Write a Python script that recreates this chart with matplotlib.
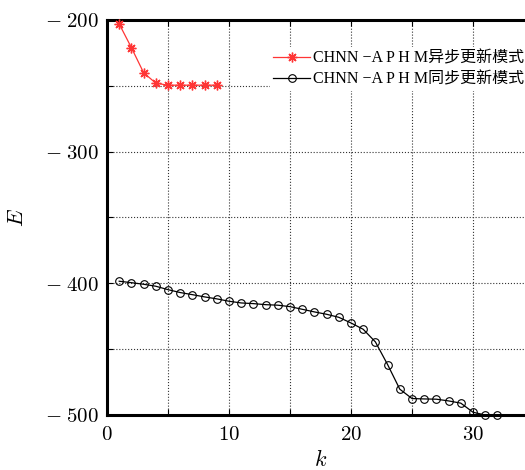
import matplotlib
matplotlib.use("Agg")
import matplotlib.pyplot as plt

plt.rcParams['mathtext.fontset'] = 'cm'
plt.rcParams['font.family'] = ['DejaVu Serif', 'Noto Sans CJK SC']

k_async = [1, 2, 3, 4, 5, 6, 7, 8, 9]
E_async = [-203, -221, -240, -248, -249.5, -249.5, -249.5, -249.5, -249.5]

k_sync = list(range(1, 33))
E_sync = [-398.4, -399.5, -400.7, -402.2, -404.8, -407.0, -408.6, -410.3, -411.8, -413.6,
          -414.9, -415.4, -416.2, -416.6, -417.7, -419.7, -421.7, -423.5, -425.8, -430.1,
          -434.9, -444.5, -461.7, -480.4, -487.5, -487.8, -488.0, -489.3, -491.0, -497.9,
          -500.0, -500.0]

label_async = "CHNN −A P H M异步更新模式"
label_sync = "CHNN −A P H M同步更新模式"

xticks = [0, 5, 10, 15, 20, 25, 30]
xticklabels = ["$0$", "", "$10$", "", "$20$", "", "$30$"]
yticks = [-500, -450, -400, -350, -300, -250, -200]
yticklabels = [r"$-\;500$", "", r"$-\;400$", "", r"$-\;300$", "", r"$-\;200$"]

fig = plt.figure(figsize=(5.25, 4.7), dpi=100)
ax = fig.add_axes([107/525, 55/470, 427/525, 395/470])

ax.plot(k_async, E_async, color='#ff3535', marker=(8, 2, 0), markersize=7,
        markeredgewidth=1.0, linewidth=0.9,
        label=label_async, clip_on=False, zorder=3)
ax.plot(k_sync, E_sync, color='black', marker='o', markersize=5.5, markerfacecolor='none',
        markeredgewidth=0.8, linewidth=0.9, label=label_sync, clip_on=False, zorder=3)

ax.set_xlim(0, 35)
ax.set_ylim(-500, -200)
ax.set_xticks(xticks)
ax.set_xticklabels(xticklabels)
ax.set_yticks(yticks)
ax.set_yticklabels(yticklabels)
ax.tick_params(direction='in', labelsize=15, top=True, right=True, length=4, width=0.8)
ax.tick_params(axis='x', pad=7)
ax.tick_params(axis='y', pad=6)
ax.grid(True, linestyle=':', color='#333333', linewidth=0.8)
ax.set_axisbelow(True)
for s in ['left', 'bottom', 'top', 'right']:
    ax.spines[s].set_linewidth(2.2)

ax.set_xlabel("$k$", fontsize=16, labelpad=4)
ax.set_ylabel("$E$", fontsize=16, labelpad=12)

leg = fig.legend(loc='upper left', bbox_to_anchor=(262/525, 1 - 39/470),
                 frameon=True, fancybox=False, edgecolor='none', facecolor='white',
                 framealpha=1, prop={'family': ['Liberation Serif', 'Noto Sans CJK SC'], 'size': 11.5},
                 handlelength=2.3, handletextpad=0.2,
                 borderpad=0.2, labelspacing=0.35)

fig.savefig("out.png", dpi=100)
